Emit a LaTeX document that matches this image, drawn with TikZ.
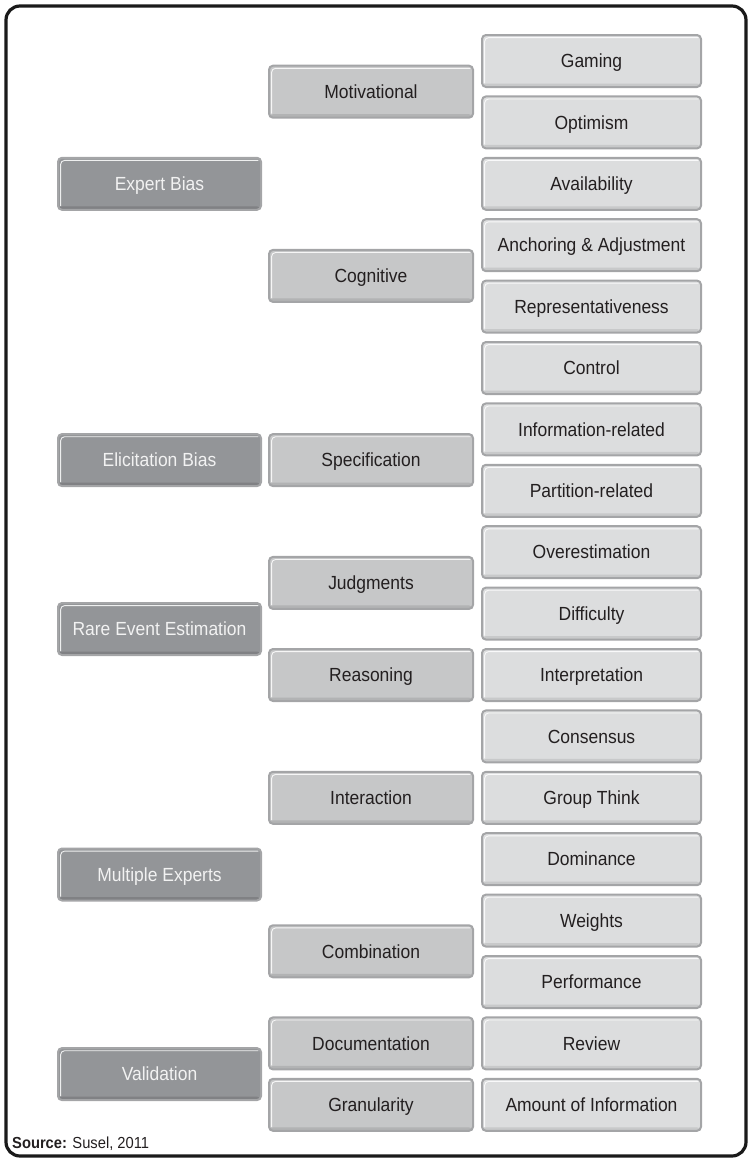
\documentclass[tikz,border=0pt]{standalone}
\usepackage{fontspec}
\setmainfont{Liberation Sans}[FakeStretch=0.92]
\definecolor{frameblack}{HTML}{1A1A1A}
\definecolor{bordergray}{HTML}{A4A5A7}
\definecolor{darkfill}{HTML}{939598}
\definecolor{darkshade}{HTML}{808184}
\definecolor{midfill}{HTML}{C6C7C8}
\definecolor{midshade}{HTML}{B2B3B4}
\definecolor{lightfill}{HTML}{DCDDDE}
\definecolor{lightshade}{HTML}{C8C9CA}
\definecolor{textdark}{HTML}{231F20}
\definecolor{textlight}{HTML}{F2F2F2}
\tikzset{
  boxbase/.style 2 args={rectangle, rounded corners=4pt, draw=bordergray, line width=2pt,
    fill=#1, minimum height=52pt, inner sep=0pt, align=center,
    text height=13.5pt, text depth=0pt, font=\fontsize{19}{21}\selectfont,
    path picture={
      \fill[#2] (path picture bounding box.south west) rectangle ([yshift=3.5pt]path picture bounding box.south east);
      \draw[white, line width=0.9pt, opacity=0.85]
        ([xshift=2.6pt,yshift=4pt]path picture bounding box.south west) --
        ([xshift=2.6pt,yshift=-2.6pt]path picture bounding box.north west) --
        ([xshift=-2.6pt,yshift=-2.6pt]path picture bounding box.north east);
    }},
  topbox/.style={boxbase={darkfill}{darkshade}, minimum width=203pt, text=textlight},
  midbox/.style={boxbase={midfill}{midshade}, minimum width=204pt, text=textdark},
  leafbox/.style={boxbase={lightfill}{lightshade}, minimum width=219pt, text=textdark},
}
\begin{document}
\begin{tikzpicture}[x=1pt, y=-1pt]
\useasboundingbox (0,0) rectangle (752,1162);
\draw[frameblack, line width=3.2pt, rounded corners=14pt] (6,6) rectangle (746,1156);
% column x centres
\def\ca{159.5}
\def\cb{371}
\def\cc{591.5}
% leaf rows: y = 61 + 61.4 k
\node[leafbox] (gaming)   at (\cc, 61.0)   {Gaming};
\node[leafbox] (optimism) at (\cc, 122.4)  {Optimism};
\node[leafbox] (avail)    at (\cc, 183.8)  {Availability};
\node[leafbox] (anchor)   at (\cc, 245.2)  {Anchoring \& Adjustment};
\node[leafbox] (repr)     at (\cc, 306.6)  {Representativeness};
\node[leafbox] (control)  at (\cc, 368.0)  {Control};
\node[leafbox] (info)     at (\cc, 429.4)  {Information-related};
\node[leafbox] (part)     at (\cc, 490.8)  {Partition-related};
\node[leafbox] (over)     at (\cc, 552.2)  {Overestimation};
\node[leafbox] (diff)     at (\cc, 613.6)  {Difficulty};
\node[leafbox] (interp)   at (\cc, 675.0)  {Interpretation};
\node[leafbox] (cons)     at (\cc, 736.4)  {Consensus};
\node[leafbox] (group)    at (\cc, 797.8)  {Group Think};
\node[leafbox] (dom)      at (\cc, 859.2)  {Dominance};
\node[leafbox] (weights)  at (\cc, 920.6)  {Weights};
\node[leafbox] (perf)     at (\cc, 982.0)  {Performance};
\node[leafbox] (review)   at (\cc, 1043.4) {Review};
\node[leafbox] (amount)   at (\cc, 1104.8) {Amount of Information};
% middle column
\node[midbox] (motiv)  at (\cb, 91.7)   {Motivational};
\node[midbox] (cogn)   at (\cb, 275.9)  {Cognitive};
\node[midbox] (spec)   at (\cb, 460.1)  {Specification};
\node[midbox] (judg)   at (\cb, 582.9)  {Judgments};
\node[midbox] (reas)   at (\cb, 675.0)  {Reasoning};
\node[midbox] (inter)  at (\cb, 797.8)  {Interaction};
\node[midbox] (comb)   at (\cb, 951.3)  {Combination};
\node[midbox] (docu)   at (\cb, 1043.4) {Documentation};
\node[midbox] (gran)   at (\cb, 1104.8) {Granularity};
% top column
\node[topbox] (expert) at (\ca, 183.8)  {Expert Bias};
\node[topbox] (elic)   at (\ca, 460.1)  {Elicitation Bias};
\node[topbox] (rare)   at (\ca, 629.0)  {Rare Event Estimation};
\node[topbox] (multi)  at (\ca, 874.5)  {Multiple Experts};
\node[topbox] (valid)  at (\ca, 1074.1) {Validation};
% source
\node[anchor=base west, inner sep=0pt, text=textdark, font=\fontsize{16}{18}\selectfont] (source) at (12,1148)
  {\textbf{Source:} Susel, 2011};
\end{tikzpicture}
\end{document}
